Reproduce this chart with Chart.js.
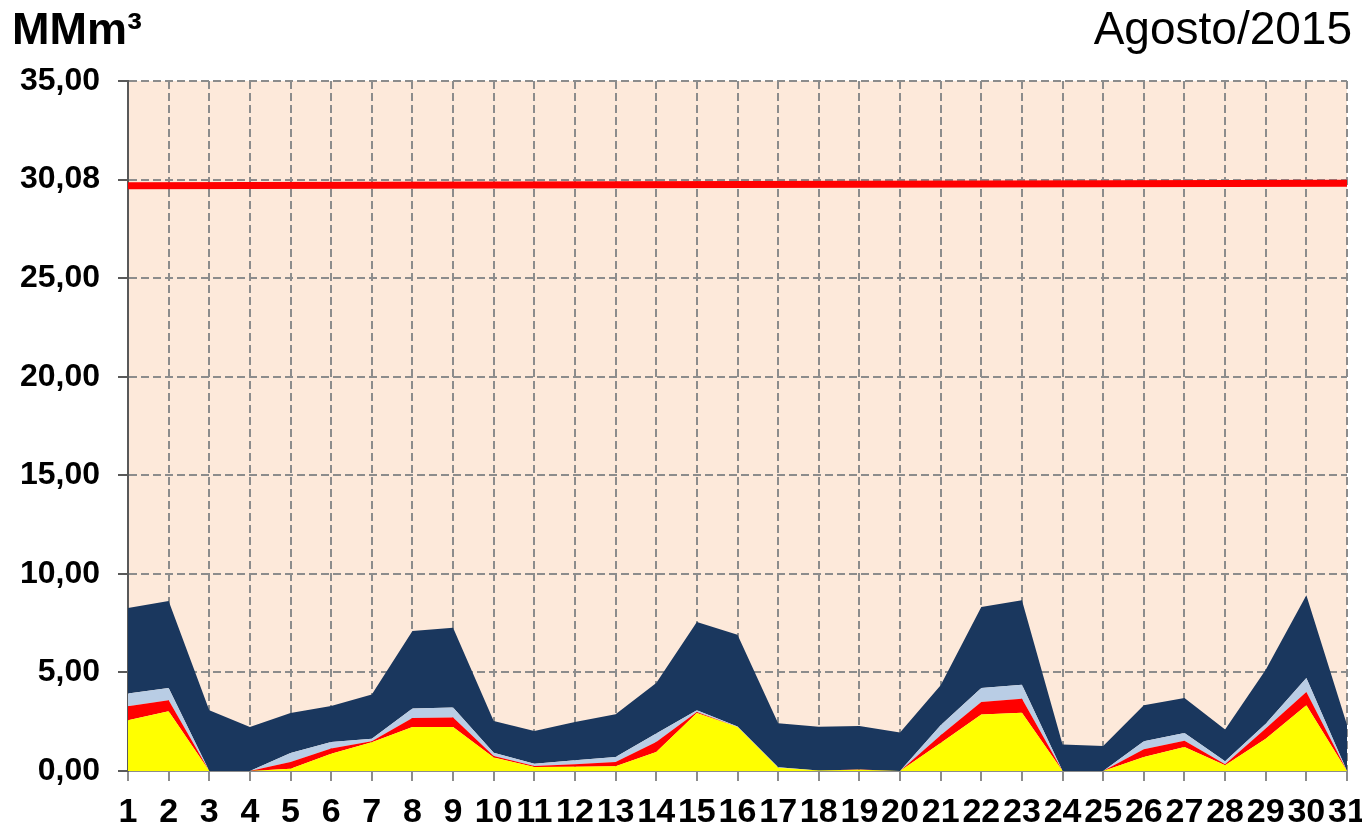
<!DOCTYPE html>
<html>
<head>
<meta charset="utf-8">
<script src="https://cdn.jsdelivr.net/npm/chart.js@4/dist/chart.umd.min.js"></script>
<style>
    html, body { margin: 0; padding: 0; background: #fff; }
    #wrap { position: relative; width: 1362px; height: 828px; }
    #chart { position: absolute; left: 0; top: 0; }
    .ttl { position: absolute; line-height: 1; font-family: Arial, "Liberation Sans", sans-serif; color: #000; white-space: nowrap; }
    #unit { left: 12px; top: 6px; font-size: 45px; font-weight: bold; }
    #month { right: 10px; top: 5px; font-size: 46px; }
</style>
</head>
<body>
<div id="wrap">
    <canvas id="chart" width="1362" height="828"></canvas>
    <div class="ttl" id="unit">MMm³</div>
    <div class="ttl" id="month">Agosto/2015</div>
</div>
<script>
// Days of the month
const days = ['1','2','3','4','5','6','7','8','9','10','11','12','13','14','15','16',
    '17','18','19','20','21','22','23','24','25','26','27','28','29','30','31'];

// Stacked series (MMm³), bottom to top
const yellowSeries = [2.57, 3.03, 0, 0, 0.12, 0.88, 1.46, 2.23, 2.23, 0.68, 0.20, 0.22, 0.24, 0.96, 2.94, 2.23,
    0.17, 0.02, 0.06, 0, 1.42, 2.86, 2.96, 0, 0, 0.71, 1.22, 0.29, 1.64, 3.33, 0];
const redSeries = [0.71, 0.56, 0, 0, 0.34, 0.26, 0.05, 0.46, 0.48, 0.08, 0.05, 0.12, 0.22, 0.51, 0.05, 0,
    0, 0, 0.01, 0, 0.39, 0.64, 0.71, 0, 0, 0.39, 0.32, 0.05, 0.51, 0.68, 0];
const lightBlueSeries = [0.65, 0.62, 0, 0, 0.45, 0.33, 0.13, 0.48, 0.51, 0.17, 0.12, 0.20, 0.25, 0.43, 0.09, 0.03,
    0.02, 0, 0.01, 0, 0.51, 0.71, 0.71, 0, 0, 0.41, 0.39, 0.15, 0.25, 0.71, 0];
const navySeries = [4.34, 4.41, 3.08, 2.23, 2.03, 1.83, 2.24, 3.93, 4.05, 1.61, 1.66, 1.95, 2.17, 2.56, 4.48, 4.65,
    2.23, 2.23, 2.20, 1.95, 2.03, 4.11, 4.28, 1.34, 1.27, 1.82, 1.77, 1.61, 2.74, 4.19, 2.35];

// Limit line: only the two end points are read, the line spans between them
const limitSeries = [29.69, null, null, null, null, null, null, null, null, null, null, null, null, null, null, null,
    null, null, null, null, null, null, null, null, null, null, null, null, null, null, 29.81];

// Y axis ticks
const yTicks = [0, 5, 10, 15, 20, 25, 30, 35];
const yTickLabels = ['0,00', '5,00', '10,00', '15,00', '20,00', '25,00', '30,08', '35,00'];

const FONT = 'Arial, "Liberation Sans", sans-serif';

const plotBg = {
    id: 'plotBg',
    beforeDraw(chart) {
        const a = chart.chartArea;
        const ctx = chart.ctx;
        ctx.save();
        ctx.fillStyle = '#FDE9DA';
        ctx.fillRect(a.left, a.top, a.right - a.left, a.bottom - a.top);
        ctx.restore();
    }
};

function area(data, color, fill) {
    return {
        data: data,
        stack: 'a',
        backgroundColor: color,
        borderColor: color,
        borderWidth: 0,
        pointRadius: 0,
        tension: 0,
        fill: fill
    };
}

new Chart(document.getElementById('chart'), {
    type: 'line',
    data: {
        labels: days,
        datasets: [
            area(yellowSeries, '#FFFF00', 'origin'),
            area(redSeries, '#FF0000', '-1'),
            area(lightBlueSeries, '#B9CDE5', '-1'),
            area(navySeries, '#1A375E', '-1'),
            {
                data: limitSeries,
                stack: 'limit',
                borderColor: '#FF0000',
                borderWidth: 7,
                pointRadius: 0,
                spanGaps: true,
                fill: false
            }
        ]
    },
    options: {
        responsive: false,
        animation: false,
        layout: { padding: { top: 81, right: 0, left: 0, bottom: 0 } },
        plugins: {
            legend: { display: false },
            tooltip: { enabled: false }
        },
        scales: {
            x: {
                offset: false,
                afterFit: s => { s.height = 57; s.paddingRight = 15; s.paddingLeft = 0; },
                grid: { color: '#8C8C8C', lineWidth: 2, tickLength: 10, tickColor: '#8C8C8C' },
                border: { color: '#8C8C8C', width: 2, dash: [8, 4] },
                ticks: {
                    autoSkip: false, maxRotation: 0, padding: 11, color: '#000',
                    font: { family: FONT, size: 34, weight: 'bold' }
                }
            },
            y: {
                stacked: true,
                min: 0,
                max: 35,
                afterFit: s => { s.width = 128; },
                afterBuildTicks: s => { s.ticks = yTicks.map(v => ({ value: v })); },
                grid: { color: '#8C8C8C', lineWidth: 2, tickLength: 10, tickColor: '#595959' },
                border: { color: '#595959', width: 2, dash: [8, 4] },
                ticks: {
                    padding: 18, color: '#000',
                    font: { family: FONT, size: 32, weight: 'bold' },
                    callback: v => yTickLabels[yTicks.indexOf(v)]
                }
            }
        }
    },
    plugins: [plotBg]
});
</script>
</body>
</html>
